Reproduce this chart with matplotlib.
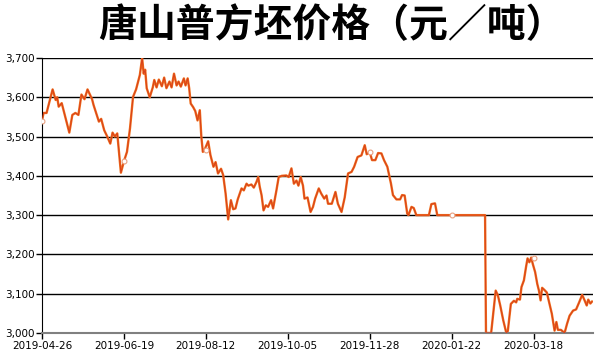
import matplotlib
matplotlib.use("Agg")
import matplotlib.pyplot as plt
from matplotlib.ticker import FuncFormatter

# day offsets from 2019-04-26 and price (yuan/ton)
days = [0, 1, 3, 7, 9, 10, 11, 13, 14, 18, 20, 22, 24, 26, 28, 30, 33, 34,
        37.5, 39, 41, 43, 45, 46.5, 48, 49.6, 52, 54, 56, 58, 60, 62,
        64.5, 66, 67, 68, 69, 71, 73, 74, 75.5, 77, 79, 80.5, 82, 84, 85.4,
        87, 88.7, 90, 91.5, 93.5, 94.6, 96, 97, 98, 99.6, 101, 102.5, 104,
        105, 106, 107, 109.5, 111, 113, 114.4, 116, 118, 119.4, 121, 122.7,
        124.5, 126, 127.5, 129, 131.5, 133, 134.8, 136, 138, 139.6, 141.4,
        142.5, 143.5, 144.7, 146, 147.5, 149, 151, 152.3, 154.5, 156, 158,
        161, 162.6, 164.4, 166, 167.7, 169, 170.5, 172, 173, 175, 177,
        178.6, 180, 182.4, 184, 186, 187.5, 188.5, 191, 193.4, 195, 197.4,
        199.5, 201.7, 204, 205.7, 208, 210.5, 212.7, 214, 216, 217.5,
        219.7, 221.5, 223.7, 225.4, 227.6, 230, 231.3, 233.6, 236, 237.3,
        239, 240.7, 241.5, 243.5, 245, 246.7, 255, 256.6, 259, 260.5, 292,
        292.6, 296, 299, 300.5, 302, 304, 306, 307, 309, 311, 312.5, 313.2,
        315, 316, 317.6, 319, 320, 321.2, 322.4, 323.5, 325, 326.4, 327.5,
        328.6, 329.6, 331, 332.7, 334.5, 336, 337.8, 339, 340, 342, 344.4,
        346, 347.7, 350, 352, 354, 356, 357.6, 359, 360, 361.4, 362.5]
price = [3540, 3560, 3560, 3620, 3593, 3600, 3576, 3585, 3570, 3510, 3555,
         3560, 3555, 3607, 3595, 3620, 3595, 3580,
         3538, 3545, 3516, 3500, 3482, 3510, 3500, 3508, 3408, 3437, 3461,
         3521, 3601, 3620,
         3657, 3700, 3660, 3670, 3623, 3600, 3625, 3644, 3625, 3645, 3628,
         3650, 3623, 3640, 3625,
         3660, 3630, 3640, 3627, 3648, 3630, 3648, 3623, 3584, 3575, 3565,
         3541, 3567,
         3500, 3461, 3465, 3488, 3453, 3423, 3435, 3406, 3418, 3402, 3355,
         3289,
         3338, 3315, 3317, 3340, 3368, 3363, 3380, 3375, 3378, 3370, 3385,
         3397, 3372, 3351, 3312, 3325, 3321, 3338, 3317, 3363, 3397, 3400,
         3401, 3397, 3419, 3380, 3388, 3375, 3397, 3375, 3342, 3345, 3308,
         3321, 3342, 3368, 3355, 3342, 3350, 3329, 3329, 3359, 3329, 3308,
         3345, 3406, 3410, 3423, 3448, 3452, 3478, 3455, 3460, 3440,
         3440, 3458, 3457, 3440, 3423, 3380, 3351, 3340, 3340, 3351,
         3350, 3304, 3300, 3321, 3318, 3300, 3300, 3328, 3330, 3300, 3300,
         3000, 3000, 3108, 3095, 3070, 3032, 3000, 3005, 3074, 3082, 3078, 3087,
         3085, 3117, 3134, 3168, 3190, 3180, 3192, 3175, 3155, 3125, 3108,
         3083, 3115, 3110, 3103, 3074, 3049, 3006, 3028, 3008, 3008, 3000,
         3023, 3044, 3057, 3060, 3078, 3097, 3083, 3070, 3085, 3075, 3080]

tick_days = [0, 54, 108, 162, 216, 270, 324]
tick_labels = ["2019-04-26", "2019-06-19", "2019-08-12", "2019-10-05",
               "2019-11-28", "2020-01-22", "2020-03-18"]
marker_days = [0, 54, 108, 216, 270, 324]
marker_vals = [3540, 3437, 3465, 3460, 3300, 3190]

fig = plt.figure(figsize=(6, 3.6), dpi=100)
ax = fig.add_axes([0.07, 0.075, 0.918, 0.764])

for v in range(3100, 3701, 100):
    ax.axhline(v, color="black", lw=1.0, zorder=1)

ax.plot(days, price, color="#F0701E", lw=1.7, zorder=2)
ax.plot(days, price, color="#D8401A", lw=0.7, zorder=3)
ax.plot(marker_days, marker_vals, ls="none", marker="o", ms=3.5,
        mfc="white", mec="#E8A080", mew=0.8, zorder=4)

ax.set_xlim(0, 363)
ax.set_ylim(3000, 3700)
ax.set_yticks(range(3000, 3701, 100))
ax.yaxis.set_major_formatter(FuncFormatter(lambda v, p: f"{int(v):,}"))
ax.set_xticks(tick_days)
ax.set_xticklabels(tick_labels)
ax.tick_params(axis="both", labelsize=7.5, length=4, width=1, colors="black",
               pad=2)
ax.tick_params(axis="y", pad=1)

for s in ["top", "right"]:
    ax.spines[s].set_visible(False)
ax.spines["left"].set_color("black")
ax.spines["bottom"].set_color("#808080")
ax.spines["bottom"].set_linewidth(1.5)

fig.text(0.553, 0.93, "唐山普方坯价格（元／吨）", ha="center", va="center",
         fontsize=28, fontweight="bold",
         family=["Noto Sans CJK SC", "DejaVu Sans"])

fig.savefig("out.png", dpi=100)
